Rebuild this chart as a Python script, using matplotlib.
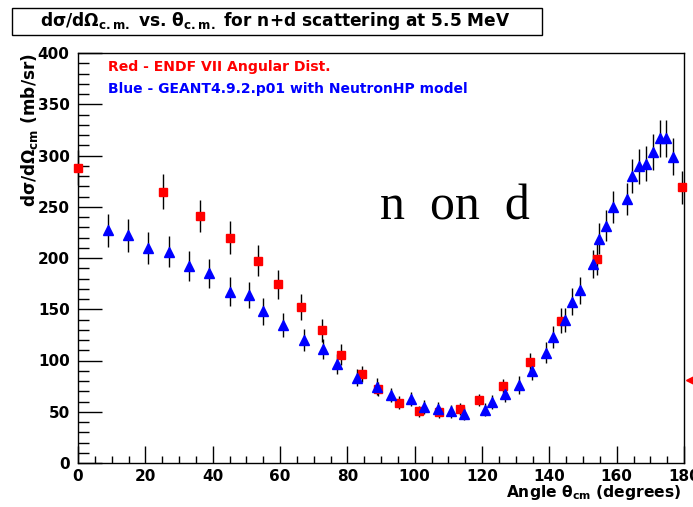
import matplotlib
matplotlib.use("Agg")
import matplotlib.pyplot as plt
from matplotlib.ticker import MultipleLocator
from matplotlib.lines import Line2D
from matplotlib.patches import Rectangle

plt.rcParams['font.family'] = ['DejaVu Sans']
plt.rcParams['font.weight'] = 'bold'
plt.rcParams['mathtext.fontset'] = 'dejavusans'

# ENDF VII angular distribution (red squares)
endf_angle = [0.0, 25.2, 36.2, 45.2, 53.4, 59.5, 66.2, 72.4, 78.1, 84.3, 89.1,
              95.2, 101.4, 107.2, 113.5, 119.2, 126.2, 134.2, 143.4, 154.3, 179.3]
endf_xs = [288, 264.5, 241, 219.8, 197.4, 174.2, 152.4, 129.3, 105.8, 87, 72,
           58.9, 50.5, 49.8, 52.8, 61.3, 74.9, 98.4, 139, 198.6, 269]
endf_err = [17, 17, 16, 16, 15, 14, 12.6, 11, 10, 8, 7,
            6, 5.5, 5.5, 5.5, 6, 7, 9, 12, 15, 16]

# GEANT4.9.2.p01 NeutronHP (blue triangles)
g4_angle = [8.9, 14.9, 20.7, 26.9, 33.1, 38.9, 45.1, 50.8, 55.0, 61.0, 67.0,
            72.7, 77.0, 83.0, 88.9, 92.9, 99.0, 102.9, 106.9, 110.8, 114.6,
            121.0, 122.9, 126.8, 130.9, 134.9, 139.0, 141.0, 144.8, 146.8,
            149.1, 152.9, 154.8, 156.7, 159.0, 163.0, 164.7, 166.7, 168.7,
            170.9, 172.9, 174.8, 176.8]
g4_xs = [227, 222, 209.8, 206, 192.5, 185, 167, 164, 148, 134.8, 120,
         111, 96.4, 83.4, 74.6, 66.4, 62.2, 54.4, 52.8, 50.5, 48.2,
         52.1, 59.3, 67.4, 75.9, 89.6, 107.8, 122.8, 139.7, 157.3,
         168.3, 194.1, 219, 231.6, 249.8, 257.6, 280.4, 289.5, 292.1,
         303.2, 316.6, 316.6, 298.7]
g4_err = [16, 16, 15.5, 15, 14.7, 14, 14, 13, 13, 12, 11,
          10, 10, 8, 8, 7, 7, 7, 6.5, 6.5, 6.5,
          6.5, 7, 8, 8.5, 9, 10, 11, 12, 13,
          13.5, 14, 15, 15, 15.5, 16, 16.5, 17, 17,
          17.5, 18, 18, 18]

title_text = r"dσ/dΩ$_{\mathbf{c.m.}}$ vs. θ$_{\mathbf{c.m.}}$ for n+d scattering at 5.5 MeV"
ylabel_text = r"dσ/dΩ$_{\mathbf{cm}}$ (mb/sr)"
xlabel_text = r"Angle θ$_{\mathbf{cm}}$ (degrees)"
legend_red = "Red - ENDF VII Angular Dist."
legend_blue = "Blue - GEANT4.9.2.p01 with NeutronHP model"
annot_text = "n  on  d"

W, H = 693, 507
fig = plt.figure(figsize=(W / 100, H / 100), dpi=100)
fig.patch.set_facecolor('white')
ax = fig.add_axes([78 / W, 1 - 463 / H, (684 - 78) / W, (463 - 53) / H])

ax.errorbar(endf_angle, endf_xs, yerr=endf_err, fmt='none', ecolor='black',
            elinewidth=1.0, capsize=0, clip_on=False, zorder=2)
ax.errorbar(g4_angle, g4_xs, yerr=g4_err, fmt='none', ecolor='black',
            elinewidth=1.0, capsize=0, clip_on=False, zorder=2)
ax.plot(endf_angle, endf_xs, linestyle='none', marker='s', ms=6.2,
        color='#ff0000', mec='#ff0000', clip_on=False, zorder=3)
ax.plot(g4_angle, g4_xs, linestyle='none', marker='^', ms=7.0,
        color='#0000ff', mec='#0000ff', clip_on=False, zorder=4)

ax.set_xlim(0, 180)
ax.set_ylim(0, 400)
ax.xaxis.set_major_locator(MultipleLocator(20))
ax.xaxis.set_minor_locator(MultipleLocator(5))
ax.yaxis.set_major_locator(MultipleLocator(50))
ax.yaxis.set_minor_locator(MultipleLocator(10))
ax.tick_params(axis='both', which='both', direction='in', top=False, right=False,
               width=1.0, color='black')
ax.tick_params(axis='y', which='major', length=17, pad=6, labelsize=11)
ax.tick_params(axis='y', which='minor', length=8)
ax.tick_params(axis='x', which='major', length=12, pad=4, labelsize=11)
ax.tick_params(axis='x', which='minor', length=5)
for lab in ax.get_xticklabels() + ax.get_yticklabels():
    lab.set_fontweight('bold')
for sp in ax.spines.values():
    sp.set_linewidth(1.0)
    sp.set_color('black')

t_ylab = fig.text(30 / W, 1 - 130 / H, ylabel_text, rotation=90, ha='center',
                  va='center', fontsize=11, fontweight='bold')
t_xlab = fig.text(681 / W, 1 - 492 / H, xlabel_text, ha='right', va='center',
                  fontsize=11, fontweight='bold')

# title box
fig.add_artist(Rectangle((12 / W, 1 - 35 / H), (542 - 12) / W, 27 / H,
                         transform=fig.transFigure, facecolor='white',
                         edgecolor='black', linewidth=1.0))
t_title = fig.text(275 / W, 1 - 21.5 / H, title_text, ha='center', va='center',
                   fontsize=12, fontweight='bold')

t_red = fig.text(108 / W, 1 - 67 / H, legend_red, color='#ff0000', ha='left',
                 va='center', fontsize=10, fontweight='bold')
t_blue = fig.text(108 / W, 1 - 89 / H, legend_blue, color='#0000ff', ha='left',
                  va='center', fontsize=10, fontweight='bold')
t_ann = fig.text(380 / W, 1 - 220 / H, annot_text, family='Liberation Serif',
                 fontweight='normal', fontsize=34, ha='left', va='baseline')

# fit text sizes to the extents seen in the reference (pixels)
fig.canvas.draw()
renderer = fig.canvas.get_renderer()
targets = [(t_title, 470, 'w'), (t_red, 224, 'w'), (t_blue, 360, 'w'),
           (t_xlab, 175, 'w'), (t_ylab, 154, 'h'), (t_ann, 150, 'w')]
for t, target, dim in targets:
    for _ in range(2):
        bb = t.get_window_extent(renderer)
        cur = bb.width if dim == 'w' else bb.height
        t.set_fontsize(t.get_fontsize() * target / cur)

# small red marker fragment at the right edge
fig.add_artist(Line2D([691 / W], [1 - 380 / H], marker='<', ms=7, color='#ff0000',
                      transform=fig.transFigure, linestyle='none'))

fig.savefig('out.png', dpi=100)
